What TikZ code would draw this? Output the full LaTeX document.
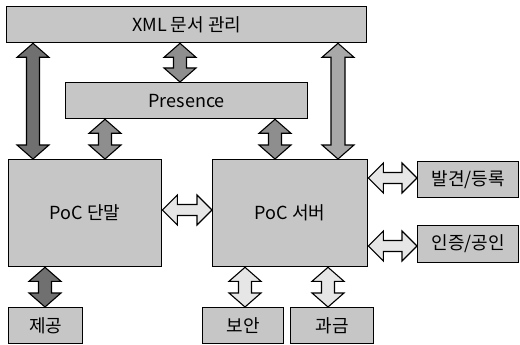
\documentclass[tikz,border=0pt]{standalone}
\usepackage{fontspec}
\setmainfont{Noto Sans CJK KR}
\usetikzlibrary{calc}
\definecolor{boxgray}{HTML}{C6C6C6}
\definecolor{darkarr}{HTML}{707070}
\definecolor{midarr}{HTML}{8E8E8E}
\definecolor{lightarr}{HTML}{A8A8A8}
\definecolor{palearr}{HTML}{E6E6E6}
\tikzset{
  blk/.style={draw=black, line width=1.3pt, fill=boxgray, inner sep=0pt, anchor=north west,
    font=\fontsize{18pt}{21pt}\selectfont},
  fatdark/.style={draw=black, line width=1.1pt, fill=darkarr, line join=miter},
  fatmid/.style={draw=black, line width=1.1pt, fill=midarr, line join=miter},
  fatlight/.style={draw=black, line width=1.1pt, fill=lightarr, line join=miter},
  fatpale/.style={draw=black, line width=1.1pt, fill=palearr, line join=miter},
}
% vertical double block arrow: style, x, top point, bottom point, head half-width, shaft half-width
\newcommand\vfat[6]{%
  \path[#1] let \p1=#3, \p2=#4 in
    ({#2pt},{\y1}) -- ({#2pt+#5pt},{\y1-14pt}) -- ({#2pt+#6pt},{\y1-14pt})
    -- ({#2pt+#6pt},{\y2+14pt}) -- ({#2pt+#5pt},{\y2+14pt}) -- ({#2pt},{\y2})
    -- ({#2pt-#5pt},{\y2+14pt}) -- ({#2pt-#6pt},{\y2+14pt})
    -- ({#2pt-#6pt},{\y1-14pt}) -- ({#2pt-#5pt},{\y1-14pt}) -- cycle;}
% horizontal double block arrow: style, y (reference px, down), left point, right point
\newcommand\hfat[4]{%
  \path[#1] let \p1=#3, \p2=#4 in
    ({\x1},{-#2pt}) -- ({\x1+15pt},{-#2pt+15pt}) -- ({\x1+15pt},{-#2pt+5.5pt})
    -- ({\x2-15pt},{-#2pt+5.5pt}) -- ({\x2-15pt},{-#2pt+15pt}) -- ({\x2},{-#2pt})
    -- ({\x2-15pt},{-#2pt-15pt}) -- ({\x2-15pt},{-#2pt-5.5pt})
    -- ({\x1+15pt},{-#2pt-5.5pt}) -- ({\x1+15pt},{-#2pt-15pt}) -- cycle;}
\begin{document}
\begin{tikzpicture}[x=1pt,y=-1pt]
\useasboundingbox (0,0) rectangle (520,345);
\fill[white] (0,0) rectangle (520,345);
% boxes
\node[blk, minimum width=360pt, minimum height=36pt] (xml) at (6,6) {XML 문서 관리};
\node[blk, minimum width=242pt, minimum height=36pt] (pres) at (65,82) {Presence};
\node[blk, minimum width=153pt, minimum height=107pt] (term) at (8,159) {PoC 단말};
\node[blk, minimum width=155pt, minimum height=107pt] (serv) at (212,159) {PoC 서버};
\node[blk, minimum width=101pt, minimum height=36pt] (disc) at (417,161) {발견/등록};
\node[blk, minimum width=101pt, minimum height=37pt] (auth) at (417,225) {인증/공인};
\node[blk, minimum width=74pt, minimum height=36pt] (prov) at (8,307) {제공};
\node[blk, minimum width=81pt, minimum height=36pt] (sec) at (202,307) {보안};
\node[blk, minimum width=83pt, minimum height=36pt] (bill) at (290,307) {과금};
% vertical arrows
\vfat{fatdark}{33}{(xml.south)}{(term.north)}{16}{6.5}
\vfat{fatlight}{338}{(xml.south)}{(serv.north)}{16}{7}
\vfat{fatmid}{180}{(xml.south)}{(pres.north)}{16}{6.5}
\vfat{fatmid}{105}{(pres.south)}{(term.north)}{16}{6.5}
\vfat{fatmid}{275}{(pres.south)}{(serv.north)}{16}{6.5}
\vfat{fatdark}{45}{(term.south)}{(prov.north)}{16}{6.5}
\vfat{fatpale}{245}{(serv.south)}{(sec.north)}{16}{6.5}
\vfat{fatpale}{328}{(serv.south)}{(bill.north)}{16}{6.5}
% horizontal arrows
\hfat{fatpale}{210}{(term.east)}{(serv.west)}
\hfat{fatpale}{178}{(serv.east)}{(disc.west)}
\hfat{fatpale}{246}{(serv.east)}{(auth.west)}
\end{tikzpicture}
\end{document}
